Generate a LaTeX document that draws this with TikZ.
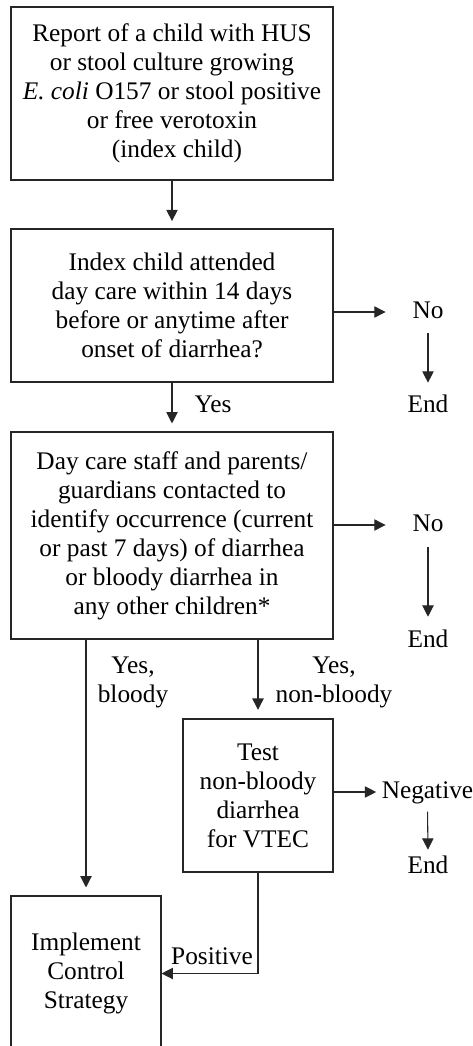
\documentclass[tikz,border=0pt]{standalone}
\usepackage{fontspec}
\setmainfont{Liberation Serif}
\usetikzlibrary{arrows.meta}
\tikzset{
  box/.style={draw=black!85, line width=0.8pt, inner sep=0pt, align=center,
              font=\fontsize{19}{21.75}\selectfont},
  lbl/.style={inner sep=0pt, anchor=base, text height=13pt, text depth=4pt,
              font=\fontsize{19}{21.75}\selectfont},
  mlbl/.style={inner sep=0pt, align=center, font=\fontsize{19}{21.75}\selectfont},
  arr/.style={draw=black!85, line width=0.8pt, -{Triangle[width=8.5pt,length=8.5pt]}},
  line/.style={draw=black!85, line width=0.8pt}
}
\begin{document}
\begin{tikzpicture}[x=0.75pt,y=-0.75pt]
\clip (0,0) rectangle (473,1046);
\useasboundingbox (0,0) rectangle (473,1046);

% boxes
\node[box, minimum width=241.5pt, minimum height=129.75pt] (b1) at (172,93.5)
  {Report of a child with HUS\\or stool culture growing\\\textit{E. coli} O157 or stool positive\\or free verotoxin\\\hspace*{7.5pt}(index child)};
\node[box, minimum width=241.5pt, minimum height=114.75pt] (b2) at (172,305.5)
  {Index child attended\\day care within 14 days\\before or anytime after\\onset of diarrhea?};
\node[box, minimum width=241.5pt, minimum height=155.25pt] (b3) at (172,535.5)
  {Day care staff and parents/\\guardians contacted to\\identify occurrence (current\\or past 7 days) of diarrhea\\or bloody diarrhea in\\any other children*};
\node[box, minimum width=112.5pt, minimum height=114.75pt] (b5) at (258,795.5)
  {Test\\non-bloody\\diarrhea\\for VTEC};
\node[box, minimum width=112.5pt, minimum height=116.25pt] (b4) at (86,973.5)
  {Implement\\Control\\Strategy};

% labels
\node[lbl] (no1) at (428,318) {No};
\node[lbl] (end1) at (428,412) {End};
\node[lbl] (no2) at (428,531) {No};
\node[lbl] (end2) at (428,647) {End};
\node[lbl] (neg) at (427.5,798) {Negative};
\node[lbl] (end3) at (428,873) {End};
\node[lbl] (yes) at (213,412) {Yes};
\node[mlbl] (yb) at (133,682) {Yes,\\bloody};
\node[mlbl] (ynb) at (334,682) {Yes,\\non-bloody};
\node[lbl] (pos) at (212,964) {Positive};

% connectors
\draw[arr, shorten >=5.5pt] (b1.south) -- (b2.north);
\draw[arr, shorten >=6pt] (b2.south) -- (b3.north);
\draw[arr, shorten >=20pt] (b2.east |- no1) -- (no1.west);
\draw[arr, shorten <=7.3pt, shorten >=8.8pt] (no1.south) -- (end1.north);
\draw[arr, shorten >=20pt] (b3.east |- no2) -- (no2.west);
\draw[arr, shorten <=8pt, shorten >=9.5pt] (no2.south) -- (end2.north);
\draw[arr, shorten >=6pt] (b4.north |- b3.south) -- (b4.north);
\draw[arr, shorten >=6.5pt] (b5.north |- b3.south) -- (b5.north);
\draw[arr, shorten >=4pt] (b5.east |- neg) -- (neg.west);
\draw[arr, shorten <=6pt, shorten >=4.3pt] (neg.south) -- (end3.north);
\draw[arr] (b5.south) |- (b4.east);
\end{tikzpicture}
\end{document}
